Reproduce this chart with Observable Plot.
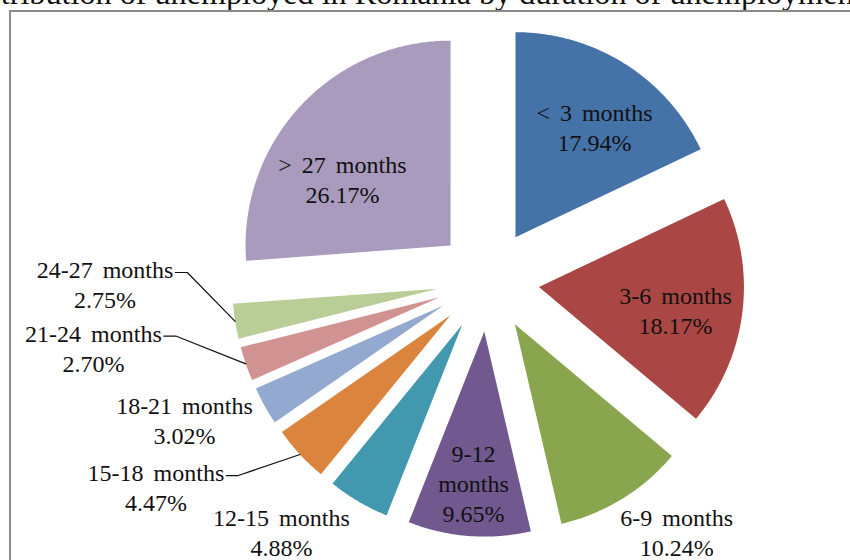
<!DOCTYPE html>
<html><head><meta charset="utf-8">
<script src="https://cdn.jsdelivr.net/npm/d3@7"></script>
<script src="https://cdn.jsdelivr.net/npm/@observablehq/plot@0.6"></script>
<style>
html,body{margin:0;padding:0;background:#fff;width:850px;height:560px;overflow:hidden;position:relative;}
#title{position:absolute;left:-44px;top:-23px;font-family:'Liberation Serif',serif;font-size:32.2px;line-height:32px;white-space:nowrap;color:#111;}
#frame{position:absolute;left:9px;top:10px;width:900px;height:600px;border-left:2px solid #8a8a8a;border-top:2px solid #8a8a8a;}
#chart{position:absolute;left:11px;top:12px;}
</style></head><body>
<div id="title">Distribution of unemployed in Romania by duration of unemployment</div>
<div id="frame"></div>
<div id="chart"></div>
<script>
const categories = ["< 3 months","3-6 months","6-9 months","9-12 months","12-15 months","15-18 months","18-21 months","21-24 months","24-27 months","> 27 months"];
const shares = [17.94,18.17,10.24,9.65,4.88,4.47,3.02,2.70,2.75,26.17];
const colors = ["#4572A7","#AA4643","#89A54E","#71588F","#4198AF","#DB843D","#93A9CF","#D19392","#B9CD96","#A99BBD"];

// layout (not data)
const W = 839, H = 548, CX = 476.6, CY = 268, R = 205, EXPLODE = 0.25;
const labelRadius = [0.905,0.927,1.539,0.998,1.595,1.912,1.633,1.954,1.869,0.862];
const labelAngle  = [34.99,99.4,143.3,184.1,219.2,237.94,245.1,260.15,269.25,304.48];
const hasLeader   = [false,false,false,false,false,true,false,true,true,false];
const stackWords  = [false,false,false,true,false,false,false,false,false,false];
const FONT = "Liberation Serif", FS = 24, WS = 4, LH = 30, LABEL_DY = -2;

const total = d3.sum(shares);
const rad = d => d * Math.PI / 180;

// slices
const slicePts = [];
const sliceGeo = [];
let acc = 0;
categories.forEach((cat, i) => {
  const a0 = acc / total * 2 * Math.PI;
  acc += shares[i];
  const a1 = acc / total * 2 * Math.PI;
  const m = (a0 + a1) / 2;
  const ox = EXPLODE * Math.sin(m), oy = EXPLODE * Math.cos(m);
  sliceGeo.push({ox, oy, m});
  slicePts.push({cat, u: ox, v: oy});
  const n = Math.max(4, Math.ceil((a1 - a0) / rad(0.5)));
  for (let k = 0; k <= n; k++) {
    const a = a0 + (a1 - a0) * k / n;
    slicePts.push({cat, u: ox + Math.sin(a), v: oy + Math.cos(a)});
  }
});

// labels
const ctx = document.createElement("canvas").getContext("2d");
ctx.font = `${FS}px '${FONT}'`;
const labels = categories.map((cat, i) => {
  const name = stackWords[i] ? cat.replace(" ", "\n") : cat;
  const text = `${name}\n${shares[i].toFixed(2)}%`;
  const r = labelRadius[i], a = rad(labelAngle[i]);
  return {cat, text, u: r * Math.sin(a), v: r * Math.cos(a), first: name.split("\n")[0]};
});

// leader lines
const leaderPts = [];
labels.forEach((l, i) => {
  if (!hasLeader[i]) return;
  const lx = CX + l.u * R, ly = CY - l.v * R + LABEL_DY;
  const w = ctx.measureText(l.first).width + WS * (l.first.split(" ").length - 1);
  const yLine = ly - LH / 2 + 4;
  const xStart = lx + w / 2 + 2;
  const xElbow = xStart + 12;
  const g = sliceGeo[i];
  const tu = g.ox + Math.sin(g.m), tv = g.oy + Math.cos(g.m);
  const toU = px => (px - CX) / R, toV = py => (CY - py) / R;
  leaderPts.push({cat: l.cat, u: toU(xStart), v: toV(yLine)});
  leaderPts.push({cat: l.cat, u: toU(xElbow), v: toV(yLine)});
  leaderPts.push({cat: l.cat, u: tu, v: tv});
});

const chart = Plot.plot({
  width: W, height: H,
  margin: 0,
  x: {domain: [(0 - CX) / R, (W - CX) / R], axis: null},
  y: {domain: [(CY - H) / R, CY / R], axis: null},
  color: {domain: categories, range: colors},
  style: {background: "transparent", overflow: "visible", wordSpacing: WS + "px"},
  marks: [
    Plot.line(slicePts, {x: "u", y: "v", z: "cat", fill: "cat", stroke: "none", curve: "linear-closed"}),
    Plot.line(leaderPts, {x: "u", y: "v", z: "cat", stroke: "#111", strokeWidth: 1.2}),
    Plot.text(labels, {x: "u", y: "v", dy: LABEL_DY, text: "text", fontSize: FS, fontFamily: FONT, lineHeight: LH / FS, fill: "#111", textAnchor: "middle"})
  ]
});
document.getElementById("chart").appendChild(chart);
</script>
</body></html>
